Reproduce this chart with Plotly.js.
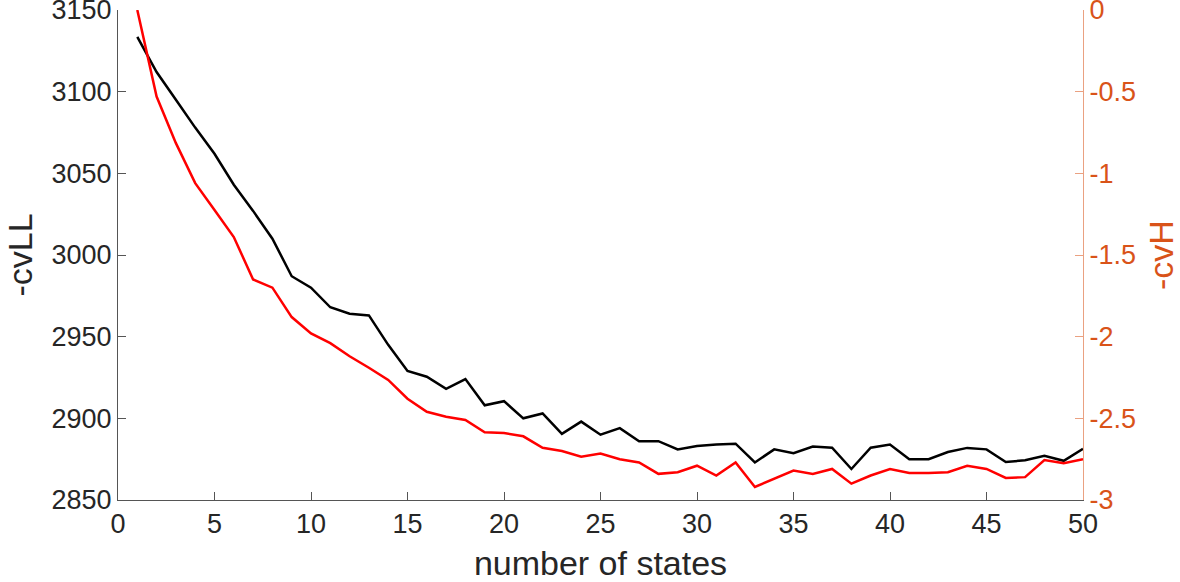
<!DOCTYPE html>
<html>
<head>
<meta charset="utf-8">
<script src="https://cdn.plot.ly/plotly-3.0.1.min.js"></script>
<style>html,body{margin:0;padding:0;background:#fff;}#chart{width:1180px;height:582px;}</style>
</head>
<body>
<div id="chart"></div>
<script>
const states = [1,2,3,4,5,6,7,8,9,10,11,12,13,14,15,16,17,18,19,20,21,22,23,24,25,26,27,28,29,30,31,32,33,34,35,36,37,38,39,40,41,42,43,44,45,46,47,48,49,50];
const cvLL = [3133.5,3112,3095,3078,3062,3043,3027,3010,2987,2980,2968,2964,2963,2945,2929,2925.5,2918,2924,2908,2910.5,2900,2903,2890.5,2898,2890,2894,2886,2886,2881,2883,2884,2884.5,2873,2881,2878.6,2882.7,2882,2869,2882,2884,2875,2875,2879.4,2881.9,2881,2873.3,2874.3,2877,2874,2881.3];
const cvH = [0,-0.53,-0.815,-1.06,-1.225,-1.39,-1.65,-1.70,-1.88,-1.98,-2.04,-2.12,-2.19,-2.265,-2.38,-2.46,-2.49,-2.51,-2.585,-2.59,-2.61,-2.68,-2.70,-2.735,-2.716,-2.75,-2.77,-2.84,-2.83,-2.79,-2.85,-2.77,-2.92,-2.87,-2.82,-2.84,-2.81,-2.90,-2.85,-2.81,-2.835,-2.835,-2.83,-2.79,-2.81,-2.865,-2.86,-2.755,-2.775,-2.75];
const xTicks = [0,5,10,15,20,25,30,35,40,45,50];
const yTicks = [2850,2900,2950,3000,3050,3100,3150];
const y2Ticks = [0,-0.5,-1,-1.5,-2,-2.5,-3];
const y2TickText = ['0','-0.5','-1','-1.5','-2','-2.5','-3'];

const font = 'Liberation Sans, Arial, sans-serif';
const orange = '#D95319';
const traces = [
  {x: states, y: cvLL, type: 'scatter', mode: 'lines', line: {color: '#000000', width: 2.5}, yaxis: 'y', showlegend: false, cliponaxis: false},
  {x: states, y: cvH, type: 'scatter', mode: 'lines', line: {color: '#FF0000', width: 2.5}, yaxis: 'y2', showlegend: false, cliponaxis: false}
];
const layout = {
  width: 1180, height: 582,
  margin: {l: 118, r: 97, t: 10, b: 82, pad: 0},
  paper_bgcolor: '#fff', plot_bgcolor: '#fff',
  font: {family: font, size: 27, color: '#262626'},
  xaxis: {
    range: [0, 50], tickvals: xTicks, ticks: 'inside', ticklen: 8, tickcolor: '#555',
    showline: true, linecolor: '#555', linewidth: 1, showgrid: false, zeroline: false,
    tickfont: {size: 27, color: '#262626'}, ticklabeloverflow: 'allow',
    title: {text: 'number of states', font: {size: 34, color: '#262626'}, standoff: 17}
  },
  yaxis: {
    range: [2850, 3150], tickvals: yTicks, ticks: 'inside', ticklen: 8, tickcolor: '#555',
    showline: true, linecolor: '#555', linewidth: 1, showgrid: false, zeroline: false,
    tickfont: {size: 27, color: '#262626'}, ticklabeloverflow: 'allow',
    title: {text: '-cvLL', font: {size: 34, color: '#262626'}, standoff: 8}
  },
  yaxis2: {
    range: [-3, 0], tickvals: y2Ticks, ticktext: y2TickText, overlaying: 'y', side: 'right',
    ticks: 'inside', ticklen: 8, tickcolor: 'rgba(217,83,25,0.55)',
    showline: true, linecolor: 'rgba(217,83,25,0.55)', linewidth: 1, showgrid: false, zeroline: false,
    tickfont: {size: 27, color: orange}, ticklabeloverflow: 'allow',
    title: {text: '-cvH', font: {size: 34, color: orange}, standoff: 15}
  }
};
Plotly.newPlot('chart', traces, layout, {displayModeBar: false, staticPlot: true});
</script>
</body>
</html>
